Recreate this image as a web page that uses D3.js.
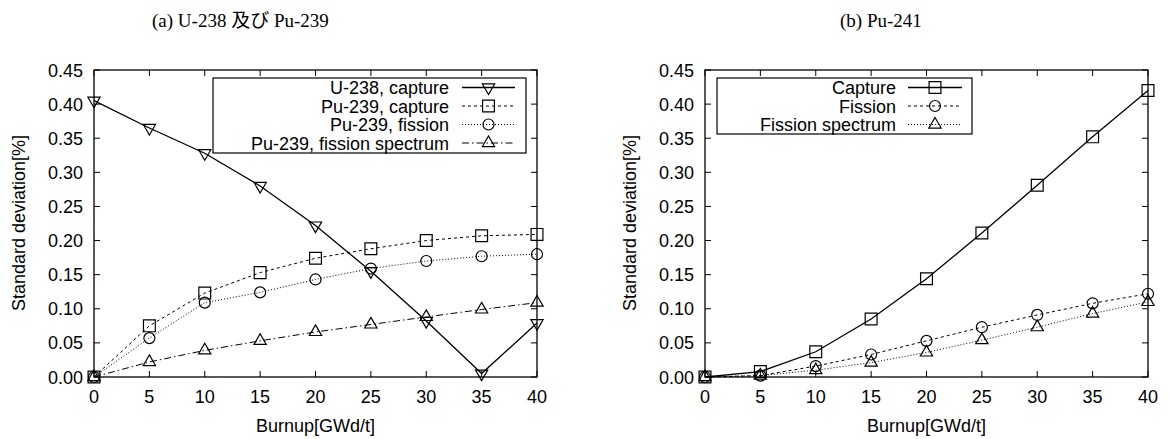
<!DOCTYPE html>
<html><head><meta charset="utf-8">
<script src="https://cdn.jsdelivr.net/npm/d3@7"></script>
<style>
body{margin:0;background:#fff;}
svg text{font-family:"Liberation Sans",Arial,sans-serif;}
.title{font-family:"Liberation Serif","Noto Sans CJK JP",serif !important;}
</style></head>
<body><svg id="c" width="1171" height="439"></svg>
<script>
const burnup = [0,5,10,15,20,25,30,35,40];
const xTicks = [0,5,10,15,20,25,30,35,40];
const yTicks = [0,0.05,0.10,0.15,0.20,0.25,0.30,0.35,0.40,0.45];

const u238Capture   = [0.405,0.365,0.328,0.280,0.222,0.155,0.082,0.005,0.079];
const pu239Capture  = [0,0.075,0.123,0.153,0.174,0.188,0.200,0.207,0.209];
const pu239Fission  = [0,0.057,0.109,0.124,0.143,0.159,0.170,0.177,0.180];
const pu239Spectrum = [0,0.022,0.039,0.053,0.066,0.077,0.088,0.099,0.109];

const pu241Capture  = [0,0.008,0.037,0.085,0.144,0.211,0.281,0.352,0.420];
const pu241Fission  = [0,0.002,0.016,0.033,0.053,0.073,0.091,0.108,0.122];
const pu241Spectrum = [0,0.002,0.010,0.021,0.036,0.054,0.073,0.093,0.110];

const titles = ["(a) U-238 及び Pu-239","(b) Pu-241"];

const svg = d3.select("#c");
const FS = 18;

function panel(cfg){
  const x = d3.scaleLinear().domain([0,40]).range([cfg.x0,cfg.x1]);
  const y = d3.scaleLinear().domain([0,0.45]).range([377,70]);
  const g = svg.append("g");
  const tl = 6;
  xTicks.forEach(t=>{
    g.append("line").attr("x1",x(t)).attr("x2",x(t)).attr("y1",377).attr("y2",377-tl).attr("stroke","#000");
    g.append("line").attr("x1",x(t)).attr("x2",x(t)).attr("y1",70).attr("y2",70+tl).attr("stroke","#000");
    g.append("text").attr("x",x(t)).attr("y",403).attr("text-anchor","middle").attr("font-size",FS).text(d3.format("d")(t));
  });
  yTicks.forEach(t=>{
    g.append("line").attr("x1",cfg.x0).attr("x2",cfg.x0+tl).attr("y1",y(t)).attr("y2",y(t)).attr("stroke","#000");
    g.append("line").attr("x1",cfg.x1).attr("x2",cfg.x1-tl).attr("y1",y(t)).attr("y2",y(t)).attr("stroke","#000");
    g.append("text").attr("x",cfg.x0-11).attr("y",y(t)+6.5).attr("text-anchor","end").attr("font-size",FS).text(d3.format(".2f")(t));
  });
  g.append("text").attr("x",(cfg.x0+cfg.x1)/2).attr("y",432).attr("text-anchor","middle").attr("font-size",FS).text("Burnup[GWd/t]");
  g.append("text").attr("transform",`translate(${cfg.x0-69},223) rotate(-90)`).attr("text-anchor","middle").attr("font-size",FS).text("Standard deviation[%]");
  g.append("text").attr("class","title").attr("x",cfg.tx).attr("y",27).attr("font-size",19).text(cfg.title);

  const line = d3.line().x((d,i)=>x(burnup[i])).y(d=>y(d));
  const sym = {
    down: d3.symbol().type(d3.symbolTriangle).size(65),
    square: d3.symbol().type(d3.symbolSquare).size(140),
    circle: d3.symbol().type(d3.symbolCircle).size(95),
    up: d3.symbol().type(d3.symbolTriangle).size(65)
  };
  function marker(sel, type, px, py){
    const rot = type==="down" ? " rotate(180)" : "";
    sel.append("path").attr("d",sym[type]()).attr("transform",`translate(${px},${py})${rot}`)
      .attr("fill","none").attr("stroke","#000").attr("stroke-width",1.2);
  }
  cfg.series.forEach(s=>{
    g.append("path").datum(s.data).attr("d",line).attr("fill","none").attr("stroke","#000")
      .attr("stroke-width",s.dash?1:1.3).attr("stroke-dasharray",s.dash||null);
    s.data.forEach((d,i)=>marker(g,s.sym,x(burnup[i]),y(d)));
  });
  const L = cfg.legend;
  g.append("rect").attr("x",L.x).attr("y",78).attr("width",L.w).attr("height",L.h).attr("fill","#fff").attr("stroke","#000").attr("stroke-width",1.2);
  cfg.series.forEach((s,i)=>{
    const cy = 78 + 9.5 + i*18.5;
    g.append("text").attr("x",L.tx).attr("y",cy+6.5).attr("text-anchor","end").attr("font-size",FS).text(s.name);
    g.append("line").attr("x1",L.s0).attr("x2",L.s1).attr("y1",cy).attr("y2",cy).attr("stroke","#000")
      .attr("stroke-width",s.dash?1:1.3).attr("stroke-dasharray",s.dash||null);
    marker(g,s.sym,(L.s0+L.s1)/2,cy);
  });
  g.append("rect").attr("x",cfg.x0).attr("y",70).attr("width",cfg.x1-cfg.x0).attr("height",307).attr("fill","none").attr("stroke","#000").attr("stroke-width",1.3);
}

panel({x0:94,x1:537,tx:152,title:titles[0],
  legend:{x:213,w:313,h:75,tx:449,s0:462,s1:515},
  series:[
    {name:"U-238, capture",data:u238Capture,sym:"down",dash:null},
    {name:"Pu-239, capture",data:pu239Capture,sym:"square",dash:"3,3"},
    {name:"Pu-239, fission",data:pu239Fission,sym:"circle",dash:"1,2"},
    {name:"Pu-239, fission spectrum",data:pu239Spectrum,sym:"up",dash:"7,3,1.5,3"}
  ]});
panel({x0:705,x1:1148,tx:840,title:titles[1],
  legend:{x:717,w:255,h:56,tx:896,s0:908,s1:962},
  series:[
    {name:"Capture",data:pu241Capture,sym:"square",dash:null},
    {name:"Fission",data:pu241Fission,sym:"circle",dash:"3,3"},
    {name:"Fission spectrum",data:pu241Spectrum,sym:"up",dash:"1,2"}
  ]});
</script></body></html>
